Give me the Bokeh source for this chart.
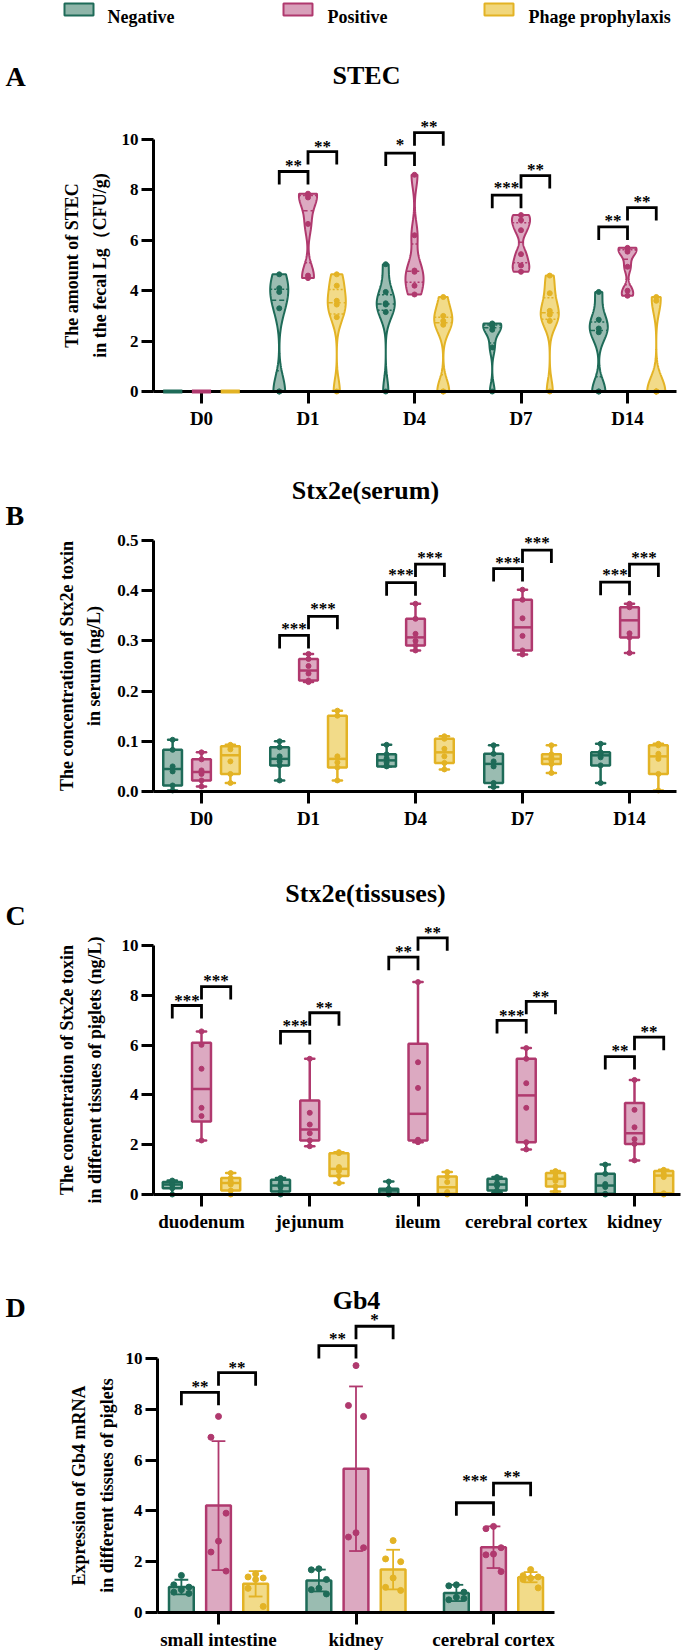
import numpy as np
from bokeh.plotting import figure
from bokeh.models import Range1d, FixedTicker, PrintfTickFormatter
from bokeh.layouts import column
from bokeh.embed import file_html
from bokeh.resources import INLINE
from bokeh.core.properties import value

W = 682
FONT = "Liberation Serif"

groups = ["Negative", "Positive", "Phage prophylaxis"]
line_colors = ["#1e6b58", "#b0396e", "#e3b325"]
fill_colors = ["#8fb5a9", "#d8a0ba", "#f1d77c"]
group_offsets = [-0.27, 0.0, 0.27]

# ---------------- A: STEC in faeces, Lg(CFU/g), six piglets per group ----------------
days = ["D0", "D1", "D4", "D7", "D14"]
stec_negative = [[0, 0, 0, 0, 0, 0], [0, 0, 3.3, 3.95, 4.1, 4.65], [0, 3.15, 3.45, 3.5, 3.95, 5.05],
                 [0, 1.75, 2.45, 2.6, 2.65, 2.7], [0, 0, 2.35, 2.5, 2.85, 3.95]]
stec_positive = [[0, 0, 0, 0, 0, 0], [4.5, 4.6, 6.65, 7.7, 7.8, 7.85], [3.85, 4.2, 4.75, 4.8, 6.2, 8.6],
                 [4.75, 5.0, 5.45, 6.4, 6.8, 7.0], [3.8, 4.0, 4.95, 5.55, 5.65, 5.7]]
stec_phage = [[0, 0, 0, 0, 0, 0], [0, 2.95, 3.45, 3.6, 4.2, 4.65], [0, 0, 2.65, 2.8, 3.0, 3.75],
              [0, 2.8, 3.05, 3.2, 3.9, 4.6], [0, 0, 0, 0, 3.6, 3.75]]
stec_sig_days = [1, 2, 3, 4]
stec_sig_np = ["**", "*", "***", "**"]
stec_bar_np = [8.73, 9.46, 7.79, 6.53]
stec_star_np = [9.3, 10.1, 8.4, 7.12]
stec_sig_pp = ["**", "**", "**", "**"]
stec_bar_pp = [9.52, 10.27, 8.57, 7.3]
stec_star_pp = [10.05, 10.84, 9.14, 7.87]

# ---------------- B: Stx2e in serum (ng/L): min, q1, median, q3, max ----------------
serum_negative = [(0.002, 0.012, 0.045, 0.083, 0.103), (0.022, 0.052, 0.065, 0.088, 0.100),
                  (0.050, 0.050, 0.062, 0.074, 0.093), (0.009, 0.017, 0.055, 0.075, 0.092),
                  (0.017, 0.052, 0.072, 0.078, 0.095)]
serum_positive = [(0.010, 0.022, 0.039, 0.064, 0.078), (0.218, 0.221, 0.241, 0.264, 0.274),
                  (0.281, 0.291, 0.307, 0.344, 0.374), (0.273, 0.281, 0.327, 0.382, 0.402),
                  (0.276, 0.307, 0.341, 0.367, 0.374)]
serum_phage = [(0.017, 0.035, 0.072, 0.090, 0.093), (0.022, 0.048, 0.065, 0.151, 0.161),
               (0.044, 0.057, 0.078, 0.105, 0.110), (0.037, 0.055, 0.065, 0.074, 0.092),
               (0.002, 0.035, 0.070, 0.092, 0.095)]
serum_pts_negative = [[0.002, 0.012, 0.04, 0.05, 0.083, 0.103], [0.022, 0.052, 0.06, 0.07, 0.088, 0.1],
                      [0.05, 0.052, 0.058, 0.066, 0.074, 0.093], [0.009, 0.017, 0.05, 0.06, 0.075, 0.092],
                      [0.017, 0.052, 0.068, 0.076, 0.078, 0.095]]
serum_pts_positive = [[0.01, 0.022, 0.035, 0.042, 0.064, 0.078], [0.218, 0.221, 0.235, 0.25, 0.264, 0.274],
                      [0.281, 0.291, 0.3, 0.314, 0.344, 0.374], [0.273, 0.281, 0.31, 0.345, 0.382, 0.402],
                      [0.276, 0.307, 0.315, 0.367, 0.37, 0.374]]
serum_pts_phage = [[0.017, 0.035, 0.06, 0.084, 0.09, 0.093], [0.022, 0.048, 0.058, 0.07, 0.151, 0.161],
                   [0.044, 0.057, 0.07, 0.085, 0.105, 0.11], [0.037, 0.055, 0.062, 0.068, 0.074, 0.092],
                   [0.002, 0.035, 0.065, 0.075, 0.092, 0.095]]
serum_sig_days = [1, 2, 3, 4]
serum_sig_np = ["***", "***", "***", "***"]
serum_bar_np = [0.311, 0.416, 0.444, 0.417]
serum_star_np = [0.34, 0.449, 0.473, 0.449]
serum_sig_pp = ["***", "***", "***", "***"]
serum_bar_pp = [0.349, 0.453, 0.481, 0.453]
serum_star_pp = [0.38, 0.483, 0.512, 0.483]

# ---------------- C: Stx2e in tissues (ng/L) ----------------
tissues = ["duodenum", "jejunum", "ileum", "cerebral cortex", "kidney"]
tissue_negative = [(0.0, 0.25, 0.40, 0.50, 0.56), (0.0, 0.12, 0.36, 0.59, 0.66), (0.0, 0.03, 0.16, 0.23, 0.52),
                   (0.09, 0.16, 0.40, 0.63, 0.70), (0.0, 0.03, 0.36, 0.83, 1.20)]
tissue_positive = [(2.17, 2.93, 4.24, 6.09, 6.55), (1.94, 2.17, 2.61, 3.78, 5.45), (2.10, 2.17, 3.24, 6.05, 8.53),
                   (1.81, 2.10, 3.98, 5.45, 5.88), (1.37, 2.03, 2.46, 3.67, 4.60)]
tissue_phage = [(0.0, 0.16, 0.46, 0.66, 0.86), (0.46, 0.74, 1.03, 1.66, 1.70), (0.0, 0.03, 0.29, 0.72, 0.90),
                (0.12, 0.32, 0.63, 0.86, 0.94), (0.0, 0.05, 0.76, 0.94, 0.99)]
tissue_pts_negative = [[0.0, 0.25, 0.38, 0.42, 0.5, 0.56], [0.0, 0.12, 0.3, 0.42, 0.59, 0.66],
                       [0.0, 0.03, 0.12, 0.2, 0.23, 0.52], [0.09, 0.16, 0.35, 0.45, 0.63, 0.7],
                       [0.0, 0.03, 0.3, 0.42, 0.83, 1.2]]
tissue_pts_positive = [[2.17, 3.15, 3.48, 5.05, 6.01, 6.55], [1.94, 2.17, 2.46, 2.81, 3.28, 5.45],
                       [2.1, 2.17, 2.2, 4.28, 5.31, 8.53], [1.81, 2.1, 3.48, 4.47, 5.45, 5.88],
                       [1.37, 2.03, 2.22, 2.7, 3.4, 4.6]]
tissue_pts_phage = [[0.0, 0.16, 0.4, 0.52, 0.66, 0.86], [0.46, 0.74, 0.95, 1.1, 1.66, 1.7],
                    [0.0, 0.03, 0.1, 0.5, 0.72, 0.9], [0.12, 0.32, 0.55, 0.7, 0.86, 0.94],
                    [0.0, 0.05, 0.7, 0.82, 0.94, 0.99]]
tissue_sig_idx = [0, 1, 2, 3, 4]
tissue_sig_np = ["***", "***", "**", "***", "**"]
tissue_bar_np = [7.59, 6.55, 9.53, 6.99, 5.54]
tissue_star_np = [8.1, 7.12, 10.09, 7.52, 6.09]
tissue_sig_pp = ["***", "**", "**", "**", "**"]
tissue_bar_pp = [8.35, 7.3, 10.31, 7.76, 6.32]
tissue_star_pp = [8.9, 7.83, 10.84, 8.29, 6.85]

# ---------------- D: Gb4 mRNA, mean +/- SD with individual piglets ----------------
gb4_tissues = ["small intestine", "kidney", "cerebral cortex"]
gb4_mean = [[1.0, 1.26, 0.77], [4.21, 5.66, 2.57], [1.13, 1.69, 1.39]]
gb4_sd = [[0.29, 0.43, 0.32], [2.54, 3.24, 0.82], [0.5, 0.78, 0.2]]
gb4_pts = [
    [[1.46, 1.09, 1.0, 0.9, 0.8, 0.75], [1.72, 1.68, 1.3, 0.95, 0.9, 0.73], [1.09, 1.05, 0.8, 0.6, 0.5, 0.55]],
    [[7.72, 6.9, 3.91, 2.81, 2.38, 1.63], [9.72, 8.15, 7.72, 3.14, 2.97, 2.55], [3.39, 3.3, 2.55, 2.3, 2.27, 1.61]],
    [[1.52, 1.4, 1.36, 1.3, 0.95, 0.24], [2.83, 2.11, 2.0, 1.36, 0.99, 0.87], [1.69, 1.45, 1.4, 1.35, 1.3, 0.97]],
]
gb4_sig_idx = [0, 1, 2]
gb4_sig_np = ["**", "**", "***"]
gb4_bar_np = [8.67, 10.51, 4.32]
gb4_star_np = [9.23, 11.1, 5.52]
gb4_sig_pp = ["**", "*", "**"]
gb4_bar_pp = [9.44, 11.27, 5.09]
gb4_star_pp = [9.95, 11.85, 5.66]


def make_fig(top, bottom, x0_page, spacing, y0_page, ppu):
    """Figure whose frame fills the whole canvas; X()/Y() turn page pixels into data units."""
    p = figure(width=W, height=bottom - top,
               x_range=Range1d(-x0_page / spacing, (W - x0_page) / spacing),
               y_range=Range1d(-(bottom - y0_page) / ppu, (y0_page - top) / ppu),
               min_border=0, title=None, output_backend="svg", toolbar_location=None)
    p.grid.visible = False
    p.outline_line_color = None
    p.background_fill_color = "white"
    p.border_fill_color = "white"

    def X(px):
        return (px - x0_page) / spacing

    def Y(py):
        return (y0_page - py) / ppu
    return p, X, Y


def style_axes(p, X, yticks, yfmt, ylabel, yaxis_px, xlabels, xaxis_end_px, label_standoff):
    xa, ya = p.xaxis[0], p.yaxis[0]
    ya.fixed_location = X(yaxis_px)
    xa.fixed_location = 0
    for ax in (xa, ya):
        ax.axis_line_width = 3
        ax.axis_line_color = "black"
        ax.major_tick_line_width = 3
        ax.major_tick_line_color = "black"
        ax.major_tick_in = 0
        ax.minor_tick_line_color = None
        ax.major_label_text_font = FONT
        ax.major_label_text_font_style = "bold"
        ax.major_label_text_color = "black"
    ya.ticker = FixedTicker(ticks=yticks)
    ya.formatter = PrintfTickFormatter(format=yfmt)
    ya.bounds = (yticks[0], yticks[-1])
    ya.major_tick_out = 12
    ya.major_label_standoff = 3
    ya.major_label_text_font_size = "17px"
    ya.axis_label = ylabel
    ya.axis_label_text_font = FONT
    ya.axis_label_text_font_style = "bold"
    ya.axis_label_text_font_size = "18px"
    ya.axis_label_text_color = "black"
    ya.axis_label_standoff = label_standoff
    ya.axis_label_text_line_height = 1.36
    xa.ticker = FixedTicker(ticks=list(range(len(xlabels))))
    xa.major_label_overrides = {i: t for i, t in enumerate(xlabels)}
    xa.bounds = (X(yaxis_px), X(xaxis_end_px))
    xa.major_tick_out = 12
    xa.major_label_standoff = 4
    xa.major_label_text_font_size = "19px"


def add_heading(p, X, Y, letter, letter_base, title, title_cx, title_base):
    p.text(x=[X(5)], y=[Y(letter_base)], text=[letter], text_align="left", text_baseline="alphabetic",
           text_font=value(FONT), text_font_style="bold", text_font_size="28px", text_color="black")
    p.text(x=[X(title_cx)], y=[Y(title_base)], text=[title], text_align="center", text_baseline="alphabetic",
           text_font=value(FONT), text_font_style="bold", text_font_size="26px", text_color="black")


def add_brackets(p, idx, lab1, h1, s1, lab2, h2, s2, ppu):
    leg = 13.0 / ppu
    lift = 8.0 / ppu
    xs, ys, tx, ty, tt = [], [], [], [], []
    for i, g in enumerate(idx):
        a, b, c = g + group_offsets[0], g + group_offsets[1], g + group_offsets[2]
        xs += [[a, a, b, b], [b, b, c, c]]
        ys += [[h1[i] - leg, h1[i], h1[i], h1[i] - leg], [h2[i] - leg, h2[i], h2[i], h2[i] - leg]]
        tx += [(a + b) / 2, (b + c) / 2]
        ty += [s1[i] - lift, s2[i] - lift]
        tt += [lab1[i], lab2[i]]
    p.multi_line(xs, ys, line_color="black", line_width=2.8, line_join="miter")
    p.text(x=tx, y=ty, text=tt, text_align="center", text_baseline="alphabetic",
           text_font=value(FONT), text_font_style="bold", text_font_size="17px", text_color="black")


def add_violins(p, series_by_group, half_width=0.085):
    for gi, series in enumerate(series_by_group):
        lc, fc = line_colors[gi], fill_colors[gi]
        for di, vals in enumerate(series):
            v = np.asarray(vals, float)
            cx = di + group_offsets[gi]
            lo, hi = v.min(), v.max()
            if hi - lo < 1e-9:
                r = p.segment(x0=[cx - 0.09], y0=[lo], x1=[cx + 0.09], y1=[lo],
                              line_color=lc, line_width=4)
                r.level = "overlay"
                continue
            bw = 0.42 * v.std(ddof=1) * len(v) ** -0.2
            ys = np.linspace(lo, hi, 160)
            dens = np.exp(-0.5 * ((ys[:, None] - v[None, :]) / bw) ** 2).sum(axis=1)
            w = dens / dens.max() * half_width
            px = np.concatenate([cx - w, (cx + w)[::-1]])
            py = np.concatenate([ys, ys[::-1]])
            p.patch(px, py, fill_color=fc, fill_alpha=0.9, line_color=lc, line_width=2)
            q1, md, q3 = np.percentile(v, [25, 50, 75])
            for q, dash in ((q1, "2 2"), (md, "5 3"), (q3, "2 2")):
                hw = float(np.interp(q, ys, w))
                p.segment(x0=[cx - hw], y0=[q], x1=[cx + hw], y1=[q], line_color=lc,
                          line_width=1.5, line_dash=dash)
            p.scatter(x=[cx] * len(v), y=v, size=5, color=lc)


def add_boxes(p, stats_by_group, pts_by_group, box_w=0.175, cap_w=0.085):
    for gi in range(3):
        lc, fc = line_colors[gi], fill_colors[gi]
        L, R, B, T, X, MN, MX, MD = [], [], [], [], [], [], [], []
        for di, (mn, q1, md, q3, mx) in enumerate(stats_by_group[gi]):
            cx = di + group_offsets[gi]
            L.append(cx - box_w / 2); R.append(cx + box_w / 2)
            B.append(q1); T.append(q3); X.append(cx)
            MN.append(mn); MX.append(mx); MD.append(md)
        X = np.array(X)
        p.segment(x0=X, y0=T, x1=X, y1=MX, line_color=lc, line_width=2.5)
        p.segment(x0=X, y0=B, x1=X, y1=MN, line_color=lc, line_width=2.5)
        p.segment(x0=X - cap_w / 2, y0=MX, x1=X + cap_w / 2, y1=MX, line_color=lc, line_width=2.5,
                  line_cap="round")
        p.segment(x0=X - cap_w / 2, y0=MN, x1=X + cap_w / 2, y1=MN, line_color=lc, line_width=2.5,
                  line_cap="round")
        p.quad(left=L, right=R, bottom=B, top=T, fill_color=fc, fill_alpha=0.9, line_color=lc, line_width=2.5)
        p.segment(x0=L, y0=MD, x1=R, y1=MD, line_color=lc, line_width=2.5)
        px, py = [], []
        for di, pts in enumerate(pts_by_group[gi]):
            px += [di + group_offsets[gi]] * len(pts)
            py += list(pts)
        p.scatter(x=px, y=py, size=5, color=lc)


# ---------------- panel A (with the group key on top) ----------------
ppu_a = (391 - 139) / 10.0
pa, XA, YA = make_fig(0, 450, 201, 106.5, 391, ppu_a)
pa.quad(left=[XA(64), XA(283), XA(484)], right=[XA(93), XA(312), XA(513)],
        top=[YA(3)] * 3, bottom=[YA(15)] * 3,
        fill_color=fill_colors, line_color=line_colors, line_width=2)
pa.text(x=[XA(107), XA(327), XA(528)], y=[YA(16)] * 3, text=groups, text_align="left",
        text_baseline="alphabetic", text_font=value(FONT), text_font_style="bold",
        text_font_size="18px", text_color="black")
style_axes(pa, XA, [0, 2, 4, 6, 8, 10], "%d", "The amount of STEC\nin the fecal Lg（CFU/g)",
           153, days, 676, 9)
add_violins(pa, [stec_negative, stec_positive, stec_phage])
add_brackets(pa, stec_sig_days, stec_sig_np, stec_bar_np, stec_star_np,
             stec_sig_pp, stec_bar_pp, stec_star_pp, ppu_a)
add_heading(pa, XA, YA, "A", 76, "STEC", 366, 75)

# ---------------- panel B ----------------
ppu_b = (791 - 540) / 0.5
pb, XB, YB = make_fig(450, 850, 201, 107.0, 791, ppu_b)
style_axes(pb, XB, [0.0, 0.1, 0.2, 0.3, 0.4, 0.5], "%.1f", "The concentration of Stx2e toxin\nin serum (ng/L)",
           153, days, 676, 10)
add_boxes(pb, [serum_negative, serum_positive, serum_phage],
          [serum_pts_negative, serum_pts_positive, serum_pts_phage])
add_brackets(pb, serum_sig_days, serum_sig_np, serum_bar_np, serum_star_np,
             serum_sig_pp, serum_bar_pp, serum_star_pp, ppu_b)
add_heading(pb, XB, YB, "B", 515, "Stx2e(serum)", 365, 490)

# ---------------- panel C ----------------
ppu_c = (1194 - 945) / 10.0
pc, XC, YC = make_fig(850, 1260, 201, 108.25, 1194, ppu_c)
style_axes(pc, XC, [0, 2, 4, 6, 8, 10], "%d",
           "The concentration of Stx2e toxin\nin different tissues of piglets (ng/L)", 153, tissues, 680, 14)
add_boxes(pc, [tissue_negative, tissue_positive, tissue_phage],
          [tissue_pts_negative, tissue_pts_positive, tissue_pts_phage])
add_brackets(pc, tissue_sig_idx, tissue_sig_np, tissue_bar_np, tissue_star_np,
             tissue_sig_pp, tissue_bar_pp, tissue_star_pp, ppu_c)
add_heading(pc, XC, YC, "C", 915, "Stx2e(tissuses)", 365, 893)

# ---------------- panel D ----------------
ppu_d = (1612 - 1358) / 10.0
pd_, XD, YD = make_fig(1260, 1652, 218, 137.5, 1612, ppu_d)
style_axes(pd_, XD, [0, 2, 4, 6, 8, 10], "%d", "Expression of Gb4 mRNA\nin different tissues of piglets",
           157, gb4_tissues, 554, 6)
bar_w, cap_w = 0.18, 0.1
jitter = [0.0, -0.055, 0.055, 0.0, -0.055, 0.055]
for gi in range(3):
    xs = np.array([t + group_offsets[gi] for t in range(3)])
    m = np.array(gb4_mean[gi])
    s = np.array(gb4_sd[gi])
    pd_.vbar(x=xs, width=bar_w, top=m, bottom=0, fill_color=fill_colors[gi], fill_alpha=0.9,
             line_color=line_colors[gi], line_width=2.5)
    pd_.segment(x0=xs, y0=m - s, x1=xs, y1=m + s, line_color=line_colors[gi], line_width=1.8)
    pd_.segment(x0=xs - cap_w / 2, y0=m + s, x1=xs + cap_w / 2, y1=m + s, line_color=line_colors[gi], line_width=1.8)
    pd_.segment(x0=xs - cap_w / 2, y0=m - s, x1=xs + cap_w / 2, y1=m - s, line_color=line_colors[gi], line_width=1.8)
    px, py = [], []
    for t in range(3):
        for k, val in enumerate(gb4_pts[gi][t]):
            px.append(xs[t] + jitter[k])
            py.append(val)
    pd_.scatter(x=px, y=py, size=6, color=line_colors[gi])
add_brackets(pd_, gb4_sig_idx, gb4_sig_np, gb4_bar_np, gb4_star_np,
             gb4_sig_pp, gb4_bar_pp, gb4_star_pp, ppu_d)
add_heading(pd_, XD, YD, "D", 1307, "Gb4", 356, 1300)

page = column(pa, pb, pc, pd_, spacing=0)
open("out.html", "w").write(file_html(page, INLINE))
